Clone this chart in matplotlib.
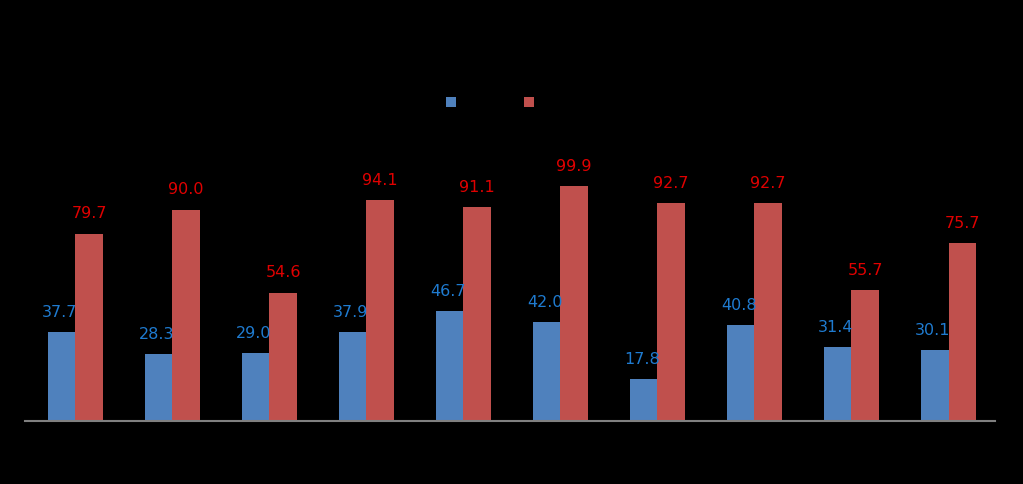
import matplotlib
matplotlib.use("Agg")
import matplotlib.pyplot as plt
import numpy as np

# category names and series names are drawn black on black in the source
categories = ["C1", "C2", "C3", "C4", "C5", "C6", "C7", "C8", "C9", "C10"]
series_names = ["Series 1", "Series 2"]
blue_vals = [37.7, 28.3, 29.0, 37.9, 46.7, 42.0, 17.8, 40.8, 31.4, 30.1]
red_vals = [79.7, 90.0, 54.6, 94.1, 91.1, 99.9, 92.7, 92.7, 55.7, 75.7]

BLUE = "#4F81BD"
RED = "#C0504D"
BLUE_TXT = "#1F7BD0"
RED_TXT = "#E00000"


def main():
    fig = plt.figure(figsize=(10.23, 4.85), dpi=100, facecolor="black")
    ax = fig.add_axes([0.0244, 0.13, 0.9483, 0.581], facecolor="black")

    x = np.arange(len(categories))
    w = 0.283
    b1 = ax.bar(x - w / 2, blue_vals, w, color=BLUE, label=series_names[0])
    b2 = ax.bar(x + w / 2, red_vals, w, color=RED, label=series_names[1])

    for rect, v in zip(b1, blue_vals):
        ax.annotate(f"{v:.1f}", (rect.get_x() + rect.get_width() / 2 - 0.02, v),
                    xytext=(0, 15), textcoords="offset points",
                    ha="center", va="center", fontsize=11.5, color=BLUE_TXT)
    for rect, v in zip(b2, red_vals):
        ax.annotate(f"{v:.1f}", (rect.get_x() + rect.get_width() / 2, v),
                    xytext=(0, 15), textcoords="offset points",
                    ha="center", va="center", fontsize=11.5, color=RED_TXT)

    ax.set_xlim(-0.52, 9.48)
    ax.set_ylim(0, 120)
    for s in ["top", "right", "left"]:
        ax.spines[s].set_visible(False)
    ax.spines["bottom"].set_color("#808080")
    ax.spines["bottom"].set_linewidth(1.5)
    ax.set_yticks([])
    ax.set_xticks(x)
    ax.set_xticklabels(categories, color="black", fontsize=9)
    ax.tick_params(axis="x", length=0)

    leg = fig.legend(loc="center", bbox_to_anchor=(0.506, 0.786), ncol=2,
                     frameon=False, fontsize=9, handlelength=0.8, handleheight=0.8,
                     columnspacing=1.0, handletextpad=0.4)
    for t in leg.get_texts():
        t.set_color("black")

    fig.savefig("out.png", dpi=100, facecolor="black")
    plt.close(fig)


if __name__ == "__main__":
    main()
